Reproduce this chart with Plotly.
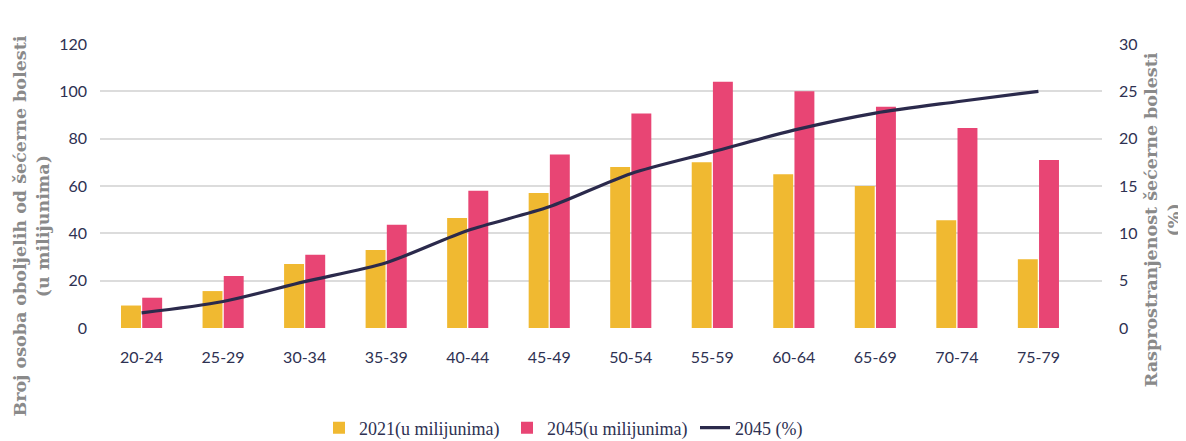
import plotly.graph_objects as go

categories = ["20-24", "25-29", "30-34", "35-39", "40-44", "45-49",
              "50-54", "55-59", "60-64", "65-69", "70-74", "75-79"]
cases_2021 = [9.5, 15.6, 27, 33, 46.5, 57, 68, 70, 65, 60, 45.5, 29]
cases_2045 = [12.8, 22, 31, 43.6, 58, 73.3, 90.6, 104, 100, 93.5, 84.5, 71]
prevalence_2045 = [1.6, 2.8, 4.9, 6.9, 10.3, 12.8, 16.3, 18.6, 20.9, 22.7, 23.9, 25]

left_ticks = [0, 20, 40, 60, 80, 100, 120]
right_ticks = [0, 5, 10, 15, 20, 25, 30]

YELLOW = "#F0B931"
PINK = "#E84574"
NAVY = "#2B2A4C"
TICK_COLOR = "#2E3152"
TITLE_COLOR = "#8A8A8A"

fig = go.Figure()
fig.add_trace(go.Bar(x=categories, y=cases_2021, name="2021(u milijunima)",
                     marker=dict(color=YELLOW, line=dict(width=0))))
fig.add_trace(go.Bar(x=categories, y=cases_2045, name="2045(u milijunima)",
                     marker=dict(color=PINK, line=dict(width=0))))
fig.add_trace(go.Scatter(x=categories, y=prevalence_2045, name="2045 (%)",
                         yaxis="y2", mode="lines",
                         line=dict(color=NAVY, width=3.2, shape="spline", smoothing=0.8)))

tick_font = dict(family="Lato, Open Sans, sans-serif", size=16, color=TICK_COLOR)

# page body has an 8px default margin, so the figure is 8px smaller and margins shifted
fig.update_layout(
    width=1178, height=433,
    margin=dict(l=92, r=84, t=36, b=113, autoexpand=False),
    paper_bgcolor="white", plot_bgcolor="white",
    barmode="group", bargap=0.48, bargroupgap=0.06,
    xaxis=dict(type="category", range=[-0.51, 11.78], showgrid=False,
               showline=False, ticks="", tickfont=tick_font, ticklabelstandoff=18,
               automargin=False),
    yaxis=dict(range=[0, 120], tickvals=left_ticks, showgrid=True,
               gridcolor="#DCDCDC", gridwidth=1.5, zeroline=False, showline=False,
               ticks="", tickfont=tick_font, ticklabelstandoff=12, automargin=False),
    yaxis2=dict(range=[0, 30], tickvals=right_ticks, overlaying="y", side="right",
                showgrid=False, zeroline=False, showline=False, ticks="",
                tickfont=tick_font, ticklabelstandoff=16, automargin=False),
    legend=dict(orientation="h", x=0.5, xanchor="center", y=-0.352, yanchor="middle",
                font=dict(family="Liberation Serif, serif", size=18, color=TICK_COLOR),
                traceorder="normal", itemwidth=30, entrywidth=143, entrywidthmode="pixels"),
    showlegend=True,
)

title_font = dict(family="DejaVu Serif, serif", size=17.5, color=TITLE_COLOR)
fig.add_annotation(text="<b>Broj osoba oboljelih od šećerne bolesti</b><br><b>(u milijunima)</b>",
                   xref="paper", yref="paper", x=-0.068, y=0.36, xanchor="center",
                   yanchor="middle", textangle=-90, showarrow=False, font=title_font,
                   align="center")
fig.add_annotation(text="<b>Rasprostranjenost šećerne bolesti</b><br><b>(%)</b>",
                   xref="paper", yref="paper", x=1.06, y=0.38, xanchor="center",
                   yanchor="middle", textangle=-90, showarrow=False, font=title_font,
                   align="center")

fig.write_html("out.html")
